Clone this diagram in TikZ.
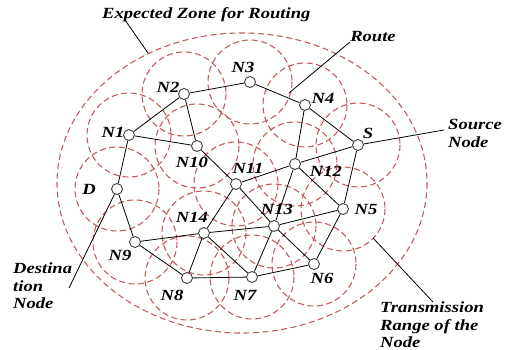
\documentclass[tikz,border=0pt]{standalone}
\usepackage{fontspec}
\setmainfont{Liberation Serif}
\newfontfamily\lblfont[FakeStretch=1.2]{Liberation Serif}
\usetikzlibrary{positioning,calc}
\definecolor{zone}{HTML}{C45C5C}
\definecolor{hostline}{HTML}{404040}

\begin{document}
\begin{tikzpicture}[x=1pt,y=-1pt,
  txrange/.style={zone,dash pattern=on 6pt off 3.5pt,line width=1.1pt},
  host/.style={circle,draw=hostline,fill=white,line width=0.9pt,minimum size=11pt,inner sep=0pt},
  link/.style={black,line width=0.8pt},
  lbl/.style={font=\lblfont\bfseries\itshape\fontsize{15.5}{17.5}\selectfont,inner sep=0pt,text=black},
  callout/.style={black,line width=0.8pt}]
  \useasboundingbox (0,0) rectangle (505,350);
  % expected zone and transmission ranges
  \draw[txrange] (242,183) ellipse (185 and 150);
  \foreach \n/\x/\y in {S/358/145,N1/129/135,N2/184/94,N3/250/82,N4/305/105,N5/343/209,N6/314/264,N7/252/277,N8/187/278,N9/135/242,N10/197/146,N11/236/184,N12/295/164,N13/274/226,N14/204/233,D/117/189}
    \draw[txrange] (\x,\y) circle (42);
  % hosts
  \foreach \n/\x/\y in {S/358/145,N1/129/135,N2/184/94,N3/250/82,N4/305/105,N5/343/209,N6/314/264,N7/252/277,N8/187/278,N9/135/242,N10/197/146,N11/236/184,N12/295/164,N13/274/226,N14/204/233,D/117/189}
    \node[host] (\n) at (\x,\y) {};
  \foreach \a/\b in {N1/N2,N2/N3,N3/N4,N4/S,N2/N10,N1/N10,N10/N11,N1/D,D/N9,N9/N14,N9/N8,N8/N7,N7/N6,N6/N5,N5/S,S/N12,N12/N11,N4/N12,N11/N14,N11/N13,N12/N13,N12/N5,N13/N5,N14/N13,N13/N6,N13/N7,N14/N8,N14/N7}
    \draw[link] (\a) -- (\b);
  % host labels
  \foreach \n/\x/\y in {S/368/133,N1/113/132,N2/168/87,N3/243/67,N4/323/98,N5/366/209,N6/322/278,N7/245/295,N8/172/295,N9/120/255,N10/192/162,N11/248/168,N12/326/171,N13/277/209,N14/192/217,D/89/189}
    \node[lbl] (l\n) at (\x,\y) {\n};
  % callouts
  \node[lbl,anchor=west] (zonetxt) at (102,15) {Expected Zone for Routing};
  \node[lbl] (routetxt) at (373,37) {Route};
  \node[lbl,anchor=west,align=left] (srctxt) at (448,133.5) {Source\\Node};
  \node[lbl,anchor=west,align=left] (dsttxt) at (13,286) {Destina\\tion\\Node};
  \node[lbl,anchor=west,align=left] (rangetxt) at (380,325) {Transmission\\Range of the\\Node};
  \coordinate (zonefoot) at (125,20);
  \coordinate (zonept) at (148,53);
  \coordinate (routefoot) at (350,42);
  \coordinate (routept) at (289,93);
  \coordinate (srcpt) at (444,130);
  \coordinate (dstpt) at (69,288);
  \coordinate (rangefoot) at (433,302);
  \coordinate (rangept) at (373,238);
  \draw[callout] (zonefoot) -- (zonept);
  \draw[callout] (routefoot) -- (routept);
  \draw[callout] (S) -- (srcpt);
  \draw[callout] (D) -- (dstpt);
  \draw[callout] (rangefoot) -- (rangept);
\end{tikzpicture}
\end{document}
